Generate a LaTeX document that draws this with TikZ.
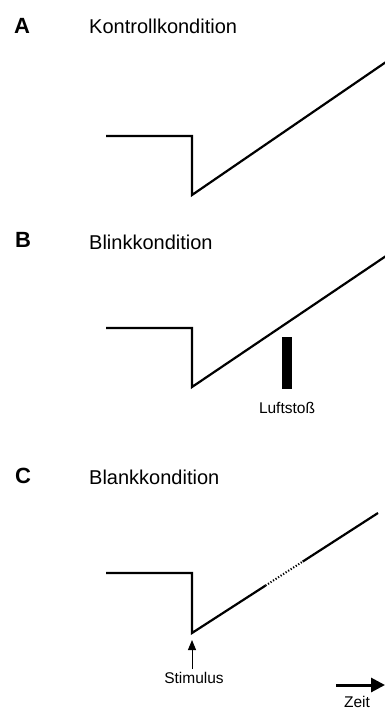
\documentclass[tikz,border=0pt]{standalone}
\usepackage{fontspec}
\setmainfont{Liberation Sans}
\usetikzlibrary{arrows.meta,calc}
\begin{document}
\begin{tikzpicture}[x=1pt,y=-1pt,
  trace/.style={line width=2.2pt,line join=miter},
  letter/.style={font=\fontsize{22}{26}\selectfont\bfseries,anchor=west,inner sep=0pt},
  title/.style={font=\fontsize{20}{24}\selectfont,anchor=west,inner sep=0pt},
  small/.style={font=\fontsize{15.5}{18}\selectfont,inner sep=0pt}]
\useasboundingbox (0,0) rectangle (385,712);
% Panel A
\node[letter] (la) at (14,26) {A};
\node[title] (ta) at (89,26) {Kontrollkondition};
\coordinate (a1) at (106,136);
\coordinate (a2) at (192,136);
\coordinate (a3) at (192,195);
\coordinate (a4) at (386,62);
\draw[trace] (a1) -- (a2) -- (a3) -- (a4);
% Panel B
\node[letter] (lb) at (15,240) {B};
\node[title] (tb) at (89,242) {Blinkkondition};
\coordinate (b1) at (106,328);
\coordinate (b2) at (192,328);
\coordinate (b3) at (192,387);
\coordinate (b4) at (386,256);
\draw[trace] (b1) -- (b2) -- (b3) -- (b4);
\node[fill=black,minimum width=10pt,minimum height=52pt,inner sep=0pt] (puff) at (286.5,363) {};
\node[small] (luft) at (287,408) {Luftstoß};
% Panel C
\node[letter] (lc) at (15,476) {C};
\node[title] (tc) at (89,477) {Blankkondition};
\coordinate (c1) at (106,573);
\coordinate (c2) at (192,573);
\coordinate (c3) at (192,633);
\coordinate (c4) at (378,513);
\coordinate (cd1) at ($(c3)!0.395!(c4)$);
\coordinate (cd2) at ($(c3)!0.595!(c4)$);
\draw[trace] (c1) -- (c2) -- (c3) -- (cd1);
\draw[line width=2pt,dash pattern=on 1.2pt off 1.8pt] (cd1) -- (cd2);
\draw[trace] (cd2) -- (c4);
\node[small] (stim) at (194,678) {Stimulus};
\coordinate (s0) at (192,669);
\coordinate (s1) at (192,640);
\draw[line width=1pt,-{Triangle[length=10pt,width=8pt]}] (s0) -- (s1);
\coordinate (z1) at (336,685);
\coordinate (z2) at (385,685);
\draw[line width=3pt,-{Triangle[length=14pt,width=14pt]}] (z1) -- (z2);
\node[small] (zeit) at (357,702) {Zeit};
\end{tikzpicture}
\end{document}
